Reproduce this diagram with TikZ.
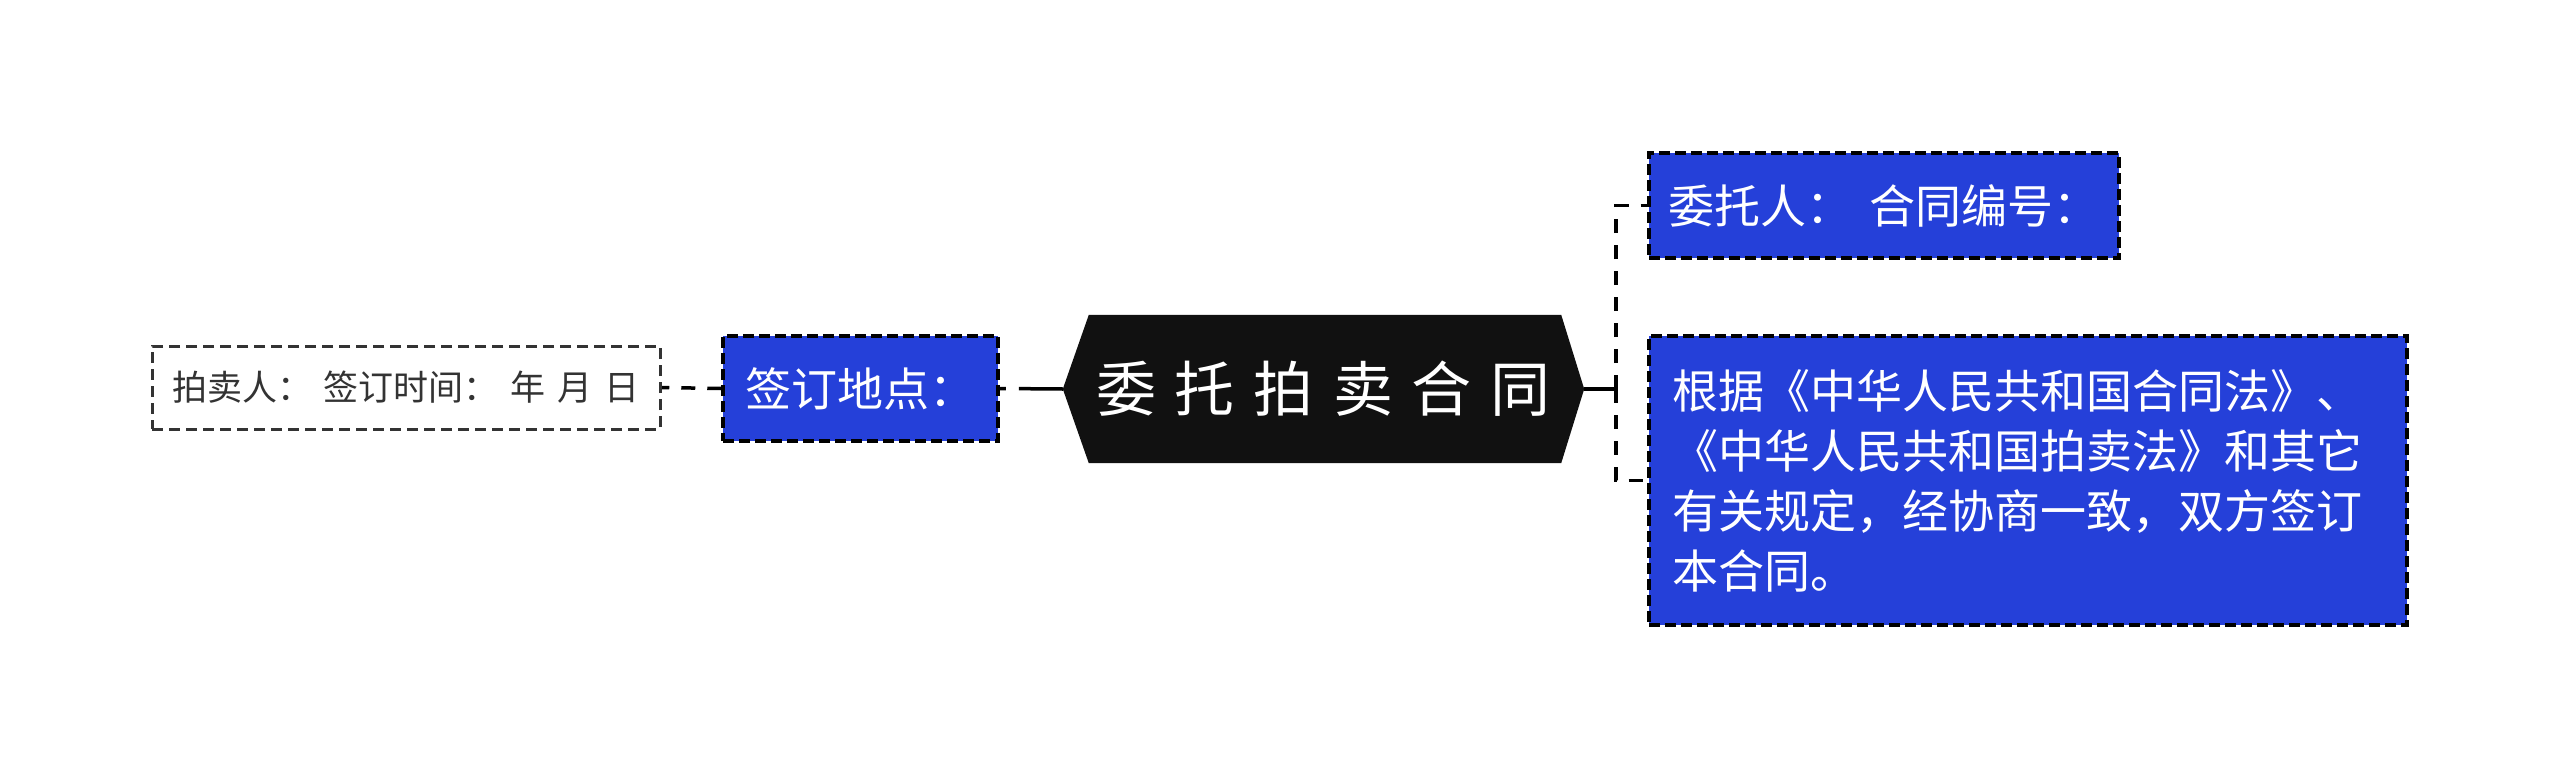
\documentclass[tikz,border=0pt]{standalone}
\usepackage{fontspec}
\newfontfamily\cjk{Noto Sans CJK SC}
\usetikzlibrary{backgrounds}
\definecolor{nodeblue}{RGB}{37,64,217}
\definecolor{hexfill}{RGB}{17,17,17}
\definecolor{greyline}{RGB}{51,51,51}
\begin{document}
\begin{tikzpicture}[x=1pt,y=-1pt,
  bluebox/.style={draw=black, line width=3.5pt, dash pattern=on 11pt off 5pt, fill=nodeblue, text=white,
    font=\cjk\fontsize{46}{60}\selectfont, inner sep=0pt, minimum height=105pt},
  whitebox/.style={draw=greyline, line width=3pt, dash pattern=on 11pt off 6pt, fill=white, text=greyline,
    font=\cjk\fontsize{35}{42}\selectfont, inner sep=0pt},
  hexnode/.style={text=white, font=\cjk\fontsize{60}{72}\selectfont, inner sep=0pt},
  conn/.style={draw=black, line width=3.5pt},
  dconn/.style={conn, dash pattern=on 14pt off 12pt}]
\useasboundingbox (0,0) rectangle (2560,779);

\node[hexnode, minimum width=521pt, minimum height=148pt] (root) at (1323.5,389)
  {委\hspace{19pt}托\hspace{19pt}拍\hspace{19pt}卖\hspace{19pt}合\hspace{19pt}同};
\node[bluebox, minimum width=275pt] (place) at (860.5,388.5) {签订地点：};
\node[whitebox, minimum width=508pt, minimum height=83pt] (seller) at (406,387.5)
  {拍卖人：\hspace{12pt}签订时间：\hspace{12pt}年\hspace{12pt}月\hspace{12pt}日};
\node[bluebox, minimum width=470pt] (client) at (1884,205.5) {委托人：\hspace{17pt}合同编号：};
\node[bluebox, text width=712pt, inner xsep=23pt, minimum height=289pt, align=left] (basis) at (2028,480.5)
  {根据《中华人民共和国合同法》、\\《中华人民共和国拍卖法》和其它\\有关规定，经协商一致，双方签订\\本合同。};
\coordinate (j) at (1616,389);

\begin{scope}[on background layer]
  \fill[white] (0,0) rectangle (2560,779);
  \fill[hexfill] (root.west) -- ([xshift=26pt]root.north west) -- ([xshift=-23pt]root.north east)
    -- (root.east) -- ([xshift=-23pt]root.south east) -- ([xshift=26pt]root.south west) -- cycle;
  \draw[conn, dash pattern=on 44pt off 13pt on 30pt off 13pt] (root.west) -- (place.east);
  \draw[dconn] (place.west) -- (seller.east);
  \draw[conn] (root.east) -- (j);
  \draw[dconn] (j) |- (client.west);
  \draw[dconn] (j) |- (basis.west);
\end{scope}
\end{tikzpicture}
\end{document}
